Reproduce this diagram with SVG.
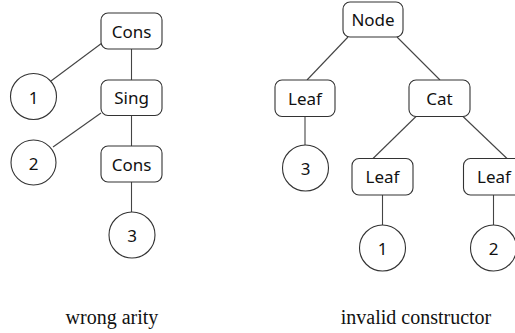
<svg xmlns="http://www.w3.org/2000/svg" width="515" height="333" viewBox="0 0 515 333">
<style>
.box{fill:#fff;stroke:#333;stroke-width:1.1}
.cir{fill:#fff;stroke:#333;stroke-width:1.1}
.edge{stroke:#444;stroke-width:1.1;fill:none}
.lbl{font-family:"Noto Sans","Open Sans",sans-serif;font-size:17px;fill:#111;text-anchor:middle;dominant-baseline:central}
.cap{font-family:"Liberation Serif","Times New Roman",serif;font-size:20px;fill:#111;text-anchor:middle}
</style>
<rect width="515" height="333" fill="#fff"/>
<g id="connectors">
<line class="edge" x1="131.5" y1="49" x2="131.5" y2="80"/>
<line class="edge" x1="131.5" y1="115.5" x2="131.5" y2="146"/>
<line class="edge" x1="131.5" y1="182" x2="131.5" y2="212"/>
<line class="edge" x1="102" y1="43" x2="51" y2="81"/>
<line class="edge" x1="101" y1="113" x2="53" y2="147"/>
<line class="edge" x1="348" y1="37" x2="307" y2="80"/>
<line class="edge" x1="397" y1="37" x2="440" y2="80"/>
<line class="edge" x1="416" y1="116.5" x2="373" y2="158.5"/>
<line class="edge" x1="463" y1="116.5" x2="507" y2="158.5"/>
<line class="edge" x1="305" y1="116.5" x2="305" y2="145"/>
<line class="edge" x1="382.5" y1="195" x2="382.5" y2="225"/>
<line class="edge" x1="493.5" y1="195" x2="493.5" y2="225"/>
</g>
<g id="l-cons1"><rect class="box" x="101" y="13" width="61" height="36" rx="7"/><text class="lbl" x="131.5" y="31">Cons</text></g>
<g id="l-sing"><rect class="box" x="101" y="80" width="61" height="35.5" rx="7"/><text class="lbl" x="131.5" y="97.5">Sing</text></g>
<g id="l-cons2"><rect class="box" x="101" y="146" width="61" height="36" rx="7"/><text class="lbl" x="131.5" y="164">Cons</text></g>
<g id="l-n1"><circle class="cir" cx="33.5" cy="96.5" r="23"/><text class="lbl" x="33.5" y="97">1</text></g>
<g id="l-n2"><circle class="cir" cx="33.5" cy="162.5" r="22.5"/><text class="lbl" x="33.5" y="163">2</text></g>
<g id="l-n3"><circle class="cir" cx="132" cy="235" r="23"/><text class="lbl" x="132" y="235.5">3</text></g>
<g id="r-node"><rect class="box" x="343" y="2" width="60" height="35" rx="7"/><text class="lbl" x="373" y="19.5">Node</text></g>
<g id="r-leaf1"><rect class="box" x="275" y="80" width="60" height="36.5" rx="7"/><text class="lbl" x="305" y="98">Leaf</text></g>
<g id="r-cat"><rect class="box" x="409" y="80" width="61" height="36.5" rx="7"/><text class="lbl" x="439.5" y="98">Cat</text></g>
<g id="r-n3"><circle class="cir" cx="305.5" cy="168" r="23"/><text class="lbl" x="305.5" y="168.5">3</text></g>
<g id="r-leaf2"><rect class="box" x="352" y="158.5" width="61" height="36.5" rx="7"/><text class="lbl" x="382.5" y="176.5">Leaf</text></g>
<g id="r-leaf3"><rect class="box" x="463.5" y="158.5" width="61" height="36.5" rx="7"/><text class="lbl" x="494" y="176.5">Leaf</text></g>
<g id="r-n1"><circle class="cir" cx="382.5" cy="248" r="23"/><text class="lbl" x="382.5" y="248.5">1</text></g>
<g id="r-n2"><circle class="cir" cx="493.5" cy="248" r="23"/><text class="lbl" x="493.5" y="248.5">2</text></g>
<text class="cap" x="112" y="324">wrong arity</text>
<text class="cap" x="416" y="324">invalid constructor</text>
</svg>
